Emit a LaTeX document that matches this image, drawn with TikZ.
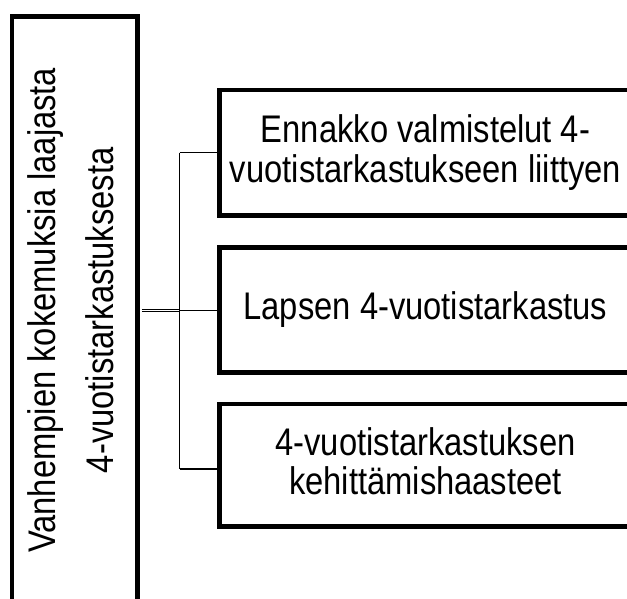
\documentclass[tikz,border=0pt]{standalone}
\usepackage{fontspec}
\setmainfont{Liberation Sans}[FakeStretch=0.85]
\begin{document}
\begin{tikzpicture}[x=1pt,y=-1pt,
  box/.style={draw, line width=4.5pt, inner sep=0pt, align=center,
    font=\fontsize{38.5}{39.5}\selectfont},
  conn/.style={line width=1.2pt},
  dbl/.style={double, double distance=1pt, line width=1.1pt}]
\useasboundingbox (0,0) rectangle (627,599);
\fill[white] (0,0) rectangle (627,599);
\clip (0,0) rectangle (627,599);
\node[box, rotate=90, minimum width=587.5pt, minimum height=125.3pt,
  font=\fontsize{38.5}{57.7}\selectfont] (L) at (74.8,310.25)
  {Vanhempien kokemuksia laajasta\\4-vuotistarkastuksesta\vphantom{y}};
\node[box, minimum width=412pt, minimum height=125.5pt] (b1) at (425.5,152.75)
  {Ennakko valmistelut 4-\\vuotistarkastukseen liittyen};
\node[box, minimum width=412pt, minimum height=125pt] (b2) at (425.5,310)
  {Lapsen 4-vuotistarkastus};
\node[box, minimum width=412pt, minimum height=122.5pt] (b3) at (425.5,465.25)
  {4-vuotistarkastuksen\\kehittämishaasteet\vphantom{y}};
\coordinate (j1) at (179.5,152.7);
\coordinate (j2) at (179.5,310.8);
\coordinate (j3) at (179.5,469);
\draw[conn] (j1) -- (j3);
\draw[conn] (j1) -- (j1 -| b1.west);
\draw[conn] (j2) -- (j2 -| b2.west);
\draw[conn] (j3) -- (j3 -| b3.west);
\draw[dbl, shorten <=2.25pt, shorten >=0.6pt] (j2 -| L.south) -- (j2);
\end{tikzpicture}
\end{document}
